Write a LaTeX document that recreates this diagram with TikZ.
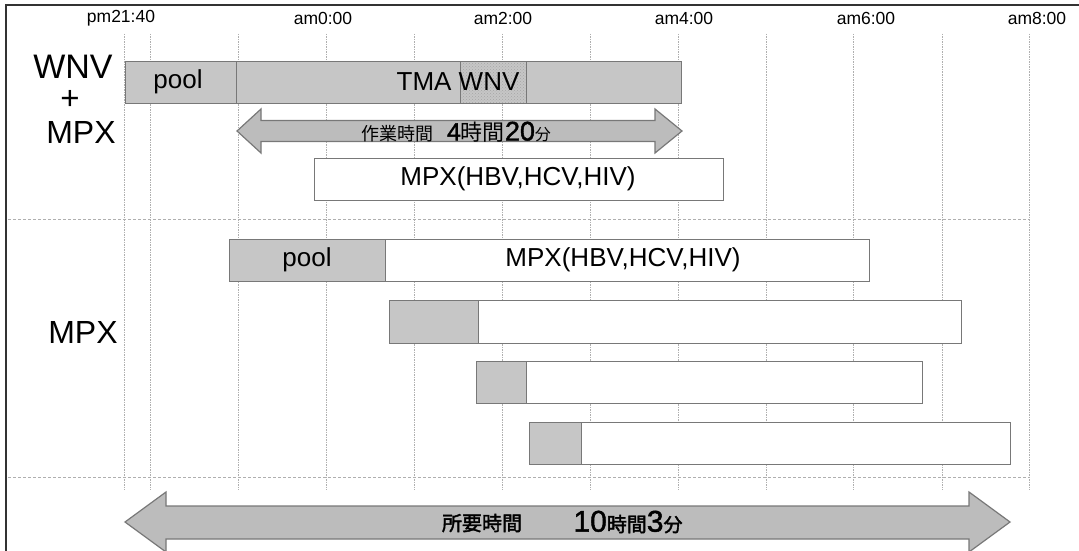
\documentclass[tikz,border=0pt]{standalone}
\usepackage{fontspec}
\setmainfont{Liberation Sans}
\newfontfamily\jp{Noto Sans CJK JP}
\newfontfamily\jpb{Noto Sans CJK JP}[FakeBold=2]
\newfontfamily\lsb{Liberation Sans}[FakeBold=1.5]
\usetikzlibrary{patterns}
\definecolor{barfill}{RGB}{198,198,198}
\definecolor{barline}{RGB}{120,120,120}
\definecolor{gridc}{RGB}{175,175,175}
\definecolor{arrowfill}{RGB}{188,188,188}
\newcommand{\fs}[1]{\fontsize{#1}{#1}\selectfont}
\begin{document}
\begin{tikzpicture}[x=1pt,y=-1pt,
  grayseg/.style={draw=barline, line width=1.3pt, fill=barfill, inner sep=0pt, anchor=north west},
  whiteseg/.style={draw=barline, line width=1.3pt, fill=white, inner sep=0pt, anchor=north west},
  gridline/.style={draw=gridc, line width=0.8pt, dash pattern=on 1.5pt off 1pt},
  hline/.style={draw=gridc, line width=0.8pt, dash pattern=on 3pt off 2pt},
  timelab/.style={font=\fs{17.5}, inner sep=0pt},
  rowlab/.style={font=\fs{34}, inner sep=0pt},
  bartext/.style={font=\fs{26}, inner sep=0pt},
  bigarrow/.style={draw=barline, line width=1.2pt, fill=arrowfill}
]
\useasboundingbox (0,0) rectangle (1079,551);
\fill[white] (0,0) rectangle (1079,551);
% frame (left and top)
\draw[line width=1.6pt, black!80] (6,551) -- (6,5) -- (1079,5);
% grid
\foreach \gx in {124,150,238,326,414,502,590,678,766,853,942,1029}
  \draw[gridline] (\gx,34) -- (\gx,490);
\draw[hline] (8,219) -- (1029,219);
\draw[hline] (8,477) -- (1029,477);
% time labels
\node[timelab] (t0) at (121,18) {pm21:40};
\node[timelab] (t1) at (323,18) {am0:00};
\node[timelab] (t2) at (503,18) {am2:00};
\node[timelab] (t3) at (684,18) {am4:00};
\node[timelab] (t4) at (866,18) {am6:00};
\node[timelab] (t5) at (1037,18) {am8:00};
% row labels
\node[rowlab] (wnv) at (73,67) {WNV};
\node[rowlab, font=\fs{33}] (plus) at (70,100) {+};
\node[rowlab, font=\fs{32}] (mpxa) at (81,132) {MPX};
\node[rowlab, font=\fs{32}] (mpxb) at (83,332) {MPX};
% row 1
\node[grayseg, minimum width=111pt, minimum height=42pt] (pool1) at (125,61) {};
\node[grayseg, minimum width=445pt, minimum height=42pt] (tma) at (236,61) {};
\node[draw=barline, line width=1.3pt, fill=barfill!60, pattern=crosshatch dots, pattern color=gray!70, inner sep=0pt, anchor=north west, minimum width=66pt, minimum height=42pt] (dots) at (460,61) {};
\node[bartext] (pooltxt1) at (178,82) {pool};
\node[bartext] (tmatxt) at (458,82) {TMA WNV};
% arrow 1
\draw[bigarrow] (237,131) -- (261,109) -- (261,120.5) -- (655,120.5) -- (655,109) -- (682,131) -- (655,153) -- (655,141.5) -- (261,141.5) -- (261,153) -- cycle;
\node[inner sep=0pt] (sagyo) at (456,132) {\jp\fs{18}作業時間\hspace{14pt}\lsb\fs{25}4\jp\fs{22}時間\lsb\fs{27}20\jp\fs{16}分};
% MPX box 1
\node[whiteseg, minimum width=409pt, minimum height=42pt] (mpx1) at (314,158) {};
\node[bartext] (mpxtxt1) at (518,179) {MPX(HBV,HCV,HIV)};
% row 2
\node[grayseg, minimum width=156pt, minimum height=42pt] (pool2) at (229,239) {};
\node[whiteseg, minimum width=484pt, minimum height=42pt] (mpx2) at (385,239) {};
\node[bartext] (pooltxt2) at (307,260) {pool};
\node[bartext] (mpxtxt2) at (623,260) {MPX(HBV,HCV,HIV)};
% bar 3
\node[grayseg, minimum width=89pt, minimum height=43pt] (g3) at (389,300) {};
\node[whiteseg, minimum width=483pt, minimum height=43pt] (w3) at (478,300) {};
% bar 4
\node[grayseg, minimum width=50pt, minimum height=42pt] (g4) at (476,361) {};
\node[whiteseg, minimum width=396pt, minimum height=42pt] (w4) at (526,361) {};
% bar 5
\node[grayseg, minimum width=52pt, minimum height=42pt] (g5) at (529,422) {};
\node[whiteseg, minimum width=429pt, minimum height=42pt] (w5) at (581,422) {};
% big arrow
\draw[bigarrow] (125,522) -- (166,492) -- (166,506) -- (969,506) -- (969,492) -- (1010,522) -- (969,552) -- (969,539) -- (166,539) -- (166,552) -- cycle;
\node[inner sep=0pt] (shoyo) at (482,523) {\jpb\fs{20}所要時間};
\node[inner sep=0pt] (ten) at (628,522) {\lsb\fs{30}10\jpb\fs{20}時間\lsb\fs{30}3\jpb\fs{19}分};
\end{tikzpicture}
\end{document}
